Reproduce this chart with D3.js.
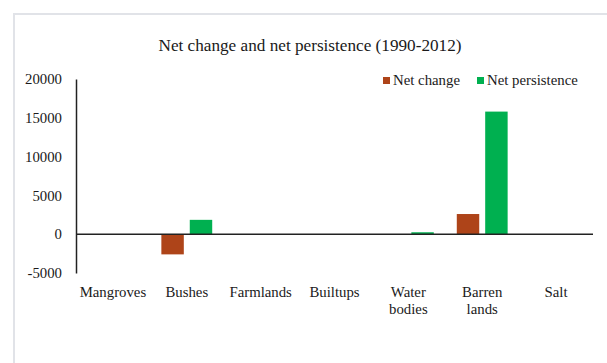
<!DOCTYPE html>
<html>
<head>
<meta charset="utf-8">
<script src="https://cdn.jsdelivr.net/npm/d3@7"></script>
<style>
  html, body { margin: 0; padding: 0; background: #fff; }
  svg { display: block; }
  text { font-family: "Liberation Serif", "Times New Roman", serif; fill: #1a1a1a; }
</style>
</head>
<body>
<svg id="chart" width="607" height="363"></svg>
<script>
const categories = ["Mangroves", "Bushes", "Farmlands", "Builtups", "Water bodies", "Barren lands", "Salt"];
const netChange = [0, -2600, 0, 0, 0, 2600, 0];
const netPersistence = [0, 1850, 0, 0, 250, 15800, 0];
const seriesNames = ["Net change", "Net persistence"];
const seriesColors = ["#AE4419", "#00B050"];
const yTicks = [-5000, 0, 5000, 10000, 15000, 20000];
const title = "Net change and net persistence (1990-2012)";

const svg = d3.select("#chart");

// outer frame
svg.append("path")
  .attr("d", "M14,363 L14,14 L607,14")
  .attr("fill", "none")
  .attr("stroke", "#e1e3e8")
  .attr("stroke-width", 2);

const plotLeft = 76, plotRight = 593, plotTop = 79, plotBottom = 273;

const x = d3.scaleBand().domain(categories).range([plotLeft, plotRight]).paddingInner(0).paddingOuter(0);
const xs = d3.scaleBand().domain(seriesNames).range([0, x.bandwidth()]).paddingInner(0.21).paddingOuter(0.405);
const y = d3.scaleLinear().domain([-5000, 20000]).range([plotBottom, plotTop]);

// title
svg.append("text")
  .attr("x", 310).attr("y", 51)
  .attr("text-anchor", "middle")
  .style("font-size", "17.2px")
  .text(title);

// bars
const seriesData = [netChange, netPersistence];
seriesNames.forEach((s, si) => {
  svg.append("g").selectAll("rect")
    .data(categories.map((c, i) => ({ c, v: seriesData[si][i] })).filter(d => d.v !== 0))
    .join("rect")
    .attr("x", d => x(d.c) + xs(s))
    .attr("width", xs.bandwidth())
    .attr("y", d => Math.min(y(d.v), y(0)))
    .attr("height", d => Math.max(1, Math.abs(y(d.v) - y(0))))
    .attr("fill", seriesColors[si]);
});

// y axis
const yAxis = d3.axisLeft(y).tickValues(yTicks).tickSize(0).tickPadding(14).tickFormat(d => String(d));
const gy = svg.append("g").attr("transform", `translate(${plotLeft},0)`).call(yAxis);
gy.select(".domain").attr("stroke", "#222").attr("stroke-width", 1.5);
gy.selectAll("text").style("font-size", "14.8px").attr("fill", "#1a1a1a").style("font-family", '"Liberation Serif", serif');

// zero line
svg.append("line")
  .attr("x1", plotLeft).attr("x2", plotRight)
  .attr("y1", y(0)).attr("y2", y(0))
  .attr("stroke", "#222").attr("stroke-width", 1.5);

// category labels (low position)
const labG = svg.append("g");
categories.forEach(c => {
  const words = c.split(" ");
  const t = labG.append("text")
    .attr("x", x(c) + x.bandwidth() / 2)
    .attr("y", 297)
    .attr("text-anchor", "middle")
    .style("font-size", "14.8px");
  if (words.length > 1) {
    words.forEach((w, i) => {
      t.append("tspan").attr("x", x(c) + x.bandwidth() / 2).attr("dy", i === 0 ? 0 : 16.5).text(w);
    });
  } else {
    t.text(c);
  }
});

// legend
const legendX = [383, 477];
seriesNames.forEach((s, i) => {
  svg.append("rect").attr("x", legendX[i]).attr("y", 77).attr("width", 7).attr("height", 7).attr("fill", seriesColors[i]);
  svg.append("text").attr("x", legendX[i] + 10).attr("y", 85).style("font-size", "14.8px").text(s);
});
</script>
</body>
</html>
